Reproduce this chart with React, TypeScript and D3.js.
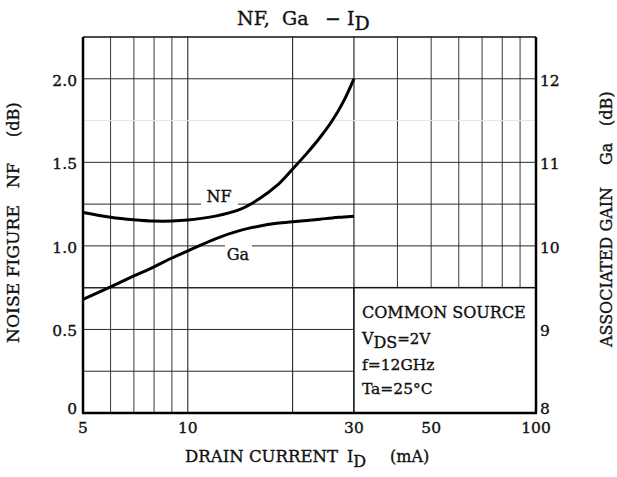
import React from "react";
import * as d3 from "d3";

const currents = [5, 6, 7, 8, 9, 10, 12, 14, 16, 18, 20, 22, 24, 26, 28, 30];
const noiseFigure = [1.2, 1.172, 1.157, 1.149, 1.149, 1.155, 1.178, 1.215, 1.28, 1.36, 1.46, 1.555, 1.65, 1.75, 1.865, 2.0];
const gain = [9.36, 9.51, 9.64, 9.75, 9.855, 9.94, 10.085, 10.18, 10.235, 10.27, 10.29, 10.305, 10.32, 10.335, 10.345, 10.355];

const xGrid = [6, 7, 8, 9, 10, 20, 30, 40, 50, 60, 70, 80, 90];
const xTickLabels = [5, 10, 30, 50, 100];
const nfGrid = [0.25, 0.5, 0.75, 1.0, 1.25, 1.5, 1.75, 2.0];
const nfTicks = [0, 0.5, 1.0, 1.5, 2.0];
const gaTicks = [8, 9, 10, 11, 12];
const legendLines = ["COMMON SOURCE", "VDS=2V", "f=12GHz", "Ta=25°C"];

const W = 617;
const H = 477;
const L = 83, R = 536, T = 37, B = 413;
const FONT = "'DejaVu Serif', serif";
const INK = "#111";

export default function App() {
  const x = d3.scaleLog().domain([5, 100]).range([L, R]);
  const yNF = d3.scaleLinear().domain([0, 2.25]).range([B, T]);
  const yGa = d3.scaleLinear().domain([8, 12.5]).range([B, T]);

  const boxX0 = x(30);
  const boxY0 = yNF(0.75);

  const nfLine = d3
    .line<number>()
    .x((d, i) => x(currents[i]))
    .y((d) => yNF(d))
    .curve(d3.curveCatmullRom.alpha(0.5));
  const gaLine = d3
    .line<number>()
    .x((d, i) => x(currents[i]))
    .y((d) => yGa(d))
    .curve(d3.curveCatmullRom.alpha(0.5));

  const textStyle = { stroke: INK, strokeWidth: 0.35 } as const;
  const fit = "spacingAndGlyphs";

  return (
    <svg
      width={W}
      height={H}
      viewBox={`0 0 ${W} ${H}`}
      style={{ position: "absolute", left: 0, top: 0, background: "#fff" }}
      fontFamily={FONT}
    >
      <rect x={0} y={0} width={W} height={H} fill="#fff" />
      {/* title */}
      <text y={25} fontSize={19} fill={INK} {...textStyle}>
        <tspan x={237}>NF,</tspan>
        <tspan x={282}>Ga</tspan>
        <tspan x={325}>−</tspan>
        <tspan x={347}>I</tspan>
        <tspan dy={5}>D</tspan>
      </text>

      {/* vertical grid */}
      {xGrid.map((v) => (
        <line
          key={"vx" + v}
          x1={x(v)}
          x2={x(v)}
          y1={T}
          y2={v > 30 ? boxY0 : B}
          stroke={v === 20 || v === 10 ? "#111" : "#3a3a3a"}
          strokeWidth={v === 30 ? 1.3 : 1}
        />
      ))}
      {/* horizontal grid */}
      {nfGrid.map((v) => (
        <line
          key={"hy" + v}
          x1={L}
          x2={v < 0.75 ? boxX0 : R}
          y1={yNF(v)}
          y2={yNF(v)}
          stroke={v === 1.75 ? "#e4e4e4" : "#2a2a2a"}
          strokeWidth={v === 0.75 ? 1.5 : 1}
        />
      ))}

      {/* legend box */}
      <rect x={boxX0} y={boxY0} width={R - boxX0} height={B - boxY0} fill="#fff" stroke={INK} strokeWidth={1.5} />
      <g fontSize={16} fill={INK} {...textStyle}>
        <text x={boxX0 + 8} y={boxY0 + 30}>{legendLines[0]}</text>
        <text x={boxX0 + 8} y={boxY0 + 56}>
          V<tspan dy={4}>DS</tspan>
          <tspan dy={-4} fontSize={15}>=2V</tspan>
        </text>
        <text x={boxX0 + 8} y={boxY0 + 82} fontSize={15.5}>{legendLines[2]}</text>
        <text x={boxX0 + 8} y={boxY0 + 106} fontSize={15.5}>{legendLines[3]}</text>
      </g>

      {/* label gaps */}
      <rect x={201} y={yNF(1.25) - 3} width={37} height={6} fill="#fff" />
      <rect x={225} y={yNF(1.0) - 3} width={27} height={6} fill="#fff" />

      {/* curves */}
      <path d={nfLine(noiseFigure) || ""} fill="none" stroke="#000" strokeWidth={3} />
      <path d={gaLine(gain) || ""} fill="none" stroke="#000" strokeWidth={3} />

      <text x={219} y={202} fontSize={16} textAnchor="middle" fill={INK} {...textStyle}>NF</text>
      <text x={238} y={260} fontSize={16} textAnchor="middle" fill={INK} {...textStyle}>Ga</text>

      {/* frame */}
      <line x1={L} x2={R} y1={T} y2={T} stroke={INK} strokeWidth={1.5} />
      <line x1={L} x2={L} y1={T} y2={B} stroke="#000" strokeWidth={2.5} />
      <line x1={R} x2={R} y1={T} y2={B} stroke="#000" strokeWidth={2.5} />
      <line x1={L - 1} x2={R + 1} y1={B} y2={B} stroke="#000" strokeWidth={2.5} />

      {/* left ticks */}
      <g fontSize={15.5} fill={INK} textAnchor="end" {...textStyle}>
        {nfTicks.map((v) => (
          <text key={"lt" + v} x={L - 6} y={yNF(v) + (v === 0 ? 1 : 7)}>
            {v === 0 ? "0" : v.toFixed(1)}
          </text>
        ))}
      </g>
      {/* right ticks */}
      <g fontSize={15.5} fill={INK} textAnchor="start" {...textStyle}>
        {gaTicks.map((v) => (
          <text key={"rt" + v} x={R + 4} y={yGa(v) + (v === 8 ? 1 : 7)}>
            {v}
          </text>
        ))}
      </g>
      {/* bottom ticks */}
      <g fontSize={15.5} fill={INK} textAnchor="middle" {...textStyle}>
        {xTickLabels.map((v) => (
          <text key={"bt" + v} x={x(v)} y={B + 20}>
            {v}
          </text>
        ))}
      </g>

      {/* axis titles */}
      <text y={462} fontSize={16} fill={INK} {...textStyle}>
        <tspan x={185} textLength={153} lengthAdjust={fit}>DRAIN CURRENT</tspan>
        <tspan x={347}>I</tspan>
        <tspan dy={5}>D</tspan>
        <tspan x={390} dy={-5}>(mA)</tspan>
      </text>
      <text transform={`rotate(-90)`} y={19} fontSize={16} fill={INK} {...textStyle}>
        <tspan x={-343} textLength={138} lengthAdjust={fit}>NOISE FIGURE</tspan>
        <tspan x={-188}>NF</tspan>
        <tspan x={-137}>(dB)</tspan>
      </text>
      <text transform={`rotate(-90)`} y={612} fontSize={16} fill={INK} {...textStyle}>
        <tspan x={-347} textLength={160} lengthAdjust={fit}>ASSOCIATED GAIN</tspan>
        <tspan x={-165}>Ga</tspan>
        <tspan x={-126}>(dB)</tspan>
      </text>
    </svg>
  );
}
